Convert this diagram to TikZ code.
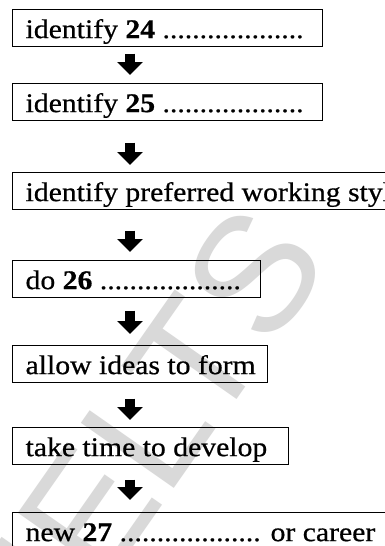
\documentclass[tikz,border=0pt]{standalone}
\usepackage{fontspec}
\setmainfont{Liberation Serif}[FakeStretch=1.10, FakeBold=0.6]
\newfontfamily\wmfont{Liberation Sans}
\usetikzlibrary{arrows.meta}
\newcommand{\bxtext}[2]{\hbox to #1{#2\hss}}
\begin{document}
\begin{tikzpicture}[x=1pt,y=-1pt,
  box/.style={draw, line width=1.2pt, anchor=north west, inner xsep=13.5pt, inner ysep=0pt,
    text height=28.5pt, text depth=8pt, font=\fontsize{27}{30}\selectfont},
  barrow/.style={line width=9.5pt, -{Triangle[width=25pt 0 0,length=13pt 0 0]}}]
\useasboundingbox (0,0) rectangle (385,546);
\clip (0,0) rectangle (385,546);
\fill[white] (0,0) rectangle (385,546);
% watermark
\node[rotate=55, text=black!15, font=\wmfont\fontsize{165}{165}\selectfont, anchor=base west] (wm) at (75,630) {IELTS};
\coordinate (ax) at (130,0);
\def\dts{...................}
\node[box] (b1) at (11.5,9) {\bxtext{283pt}{identify \textbf{24} \dts}};
\node[box] (b2) at (11.5,83) {\bxtext{283pt}{identify \textbf{25} \dts}};
\node[box] (b3) at (11.5,172) {\bxtext{400pt}{identify preferred working style}};
\node[box] (b4) at (11.5,260) {\bxtext{221.5pt}{do \textbf{26} \dts}};
\node[box] (b5) at (11.5,345) {\bxtext{228.5pt}{allow ideas to form}};
\node[box] (b6) at (11.5,427) {\bxtext{249.5pt}{take time to develop}};
\node[box] (b7) at (11.5,512) {\bxtext{400pt}{new \textbf{27} \dts{} or career}};
\draw[barrow] ([yshift=-7pt]b1.south -| ax) -- ([yshift=8pt]b2.north -| ax);
\draw[barrow] ([yshift=-22pt]b2.south -| ax) -- ([yshift=7pt]b3.north -| ax);
\draw[barrow] ([yshift=-21pt]b3.south -| ax) -- ([yshift=8pt]b4.north -| ax);
\draw[barrow] ([yshift=-13pt]b4.south -| ax) -- ([yshift=11pt]b5.north -| ax);
\draw[barrow] ([yshift=-16pt]b5.south -| ax) -- ([yshift=7pt]b6.north -| ax);
\draw[barrow] ([yshift=-15pt]b6.south -| ax) -- ([yshift=12pt]b7.north -| ax);
\end{tikzpicture}
\end{document}
